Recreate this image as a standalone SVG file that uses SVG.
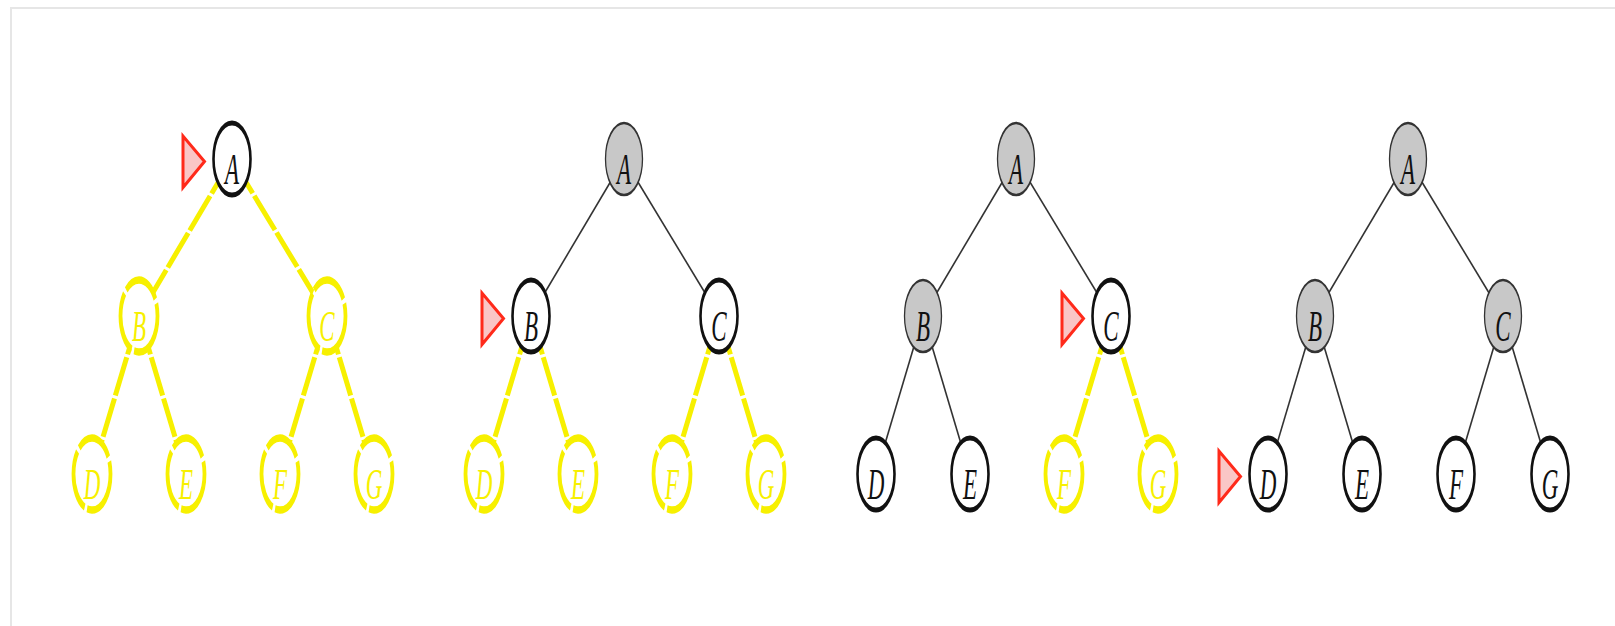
<svg xmlns="http://www.w3.org/2000/svg" width="1615" height="626" viewBox="0 0 1615 626">
  <style>
    .frame { stroke: #e6e6e6; stroke-width: 2; fill: none; }
    .e-done { stroke: #333; stroke-width: 1.6; fill: none; }
    .e-todo { stroke: #f7f000; stroke-width: 5; stroke-dasharray: 40 3; fill: none; }
    .n-cur circle { fill: #fff; stroke: #111; stroke-width: 2.6; }
    .n-seen circle { fill: #c8c8c8; stroke: #333; stroke-width: 1.3; }
    .n-todo circle { fill: #fff; stroke: #f7f000; stroke-width: 3.8; stroke-dasharray: 34 2.5; }
    .lbl { font-family: "Liberation Serif", "DejaVu Serif", "Times New Roman", serif; font-style: italic; font-size: 23px; text-anchor: middle; }
    .n-cur .lbl, .n-seen .lbl { fill: #111; }
    .n-todo .lbl { fill: #f7f000; }
    .ptr { fill: #fac6c6; stroke: #ff2a1a; stroke-width: 3; stroke-linejoin: miter; }
  </style>
  <defs>
    <!-- pointer triangle, placed to the left of the node it marks -->
    <path id="pointer" class="ptr" d="M -49 -23 L -49 28.5 L -27.5 2.5 Z"/>
  </defs>

  <rect width="1615" height="626" fill="#fff"/>
  <path class="frame" d="M 11 626 L 11 8 L 1615 8"/>

  <!-- edges (centre to centre, hidden under node fills) -->
  <g id="connectors">
    <!-- tree 1 -->
    <line class="e-todo" x1="232" y1="159" x2="139" y2="316"/>
    <line class="e-todo" x1="232" y1="159" x2="327" y2="316"/>
    <line class="e-todo" x1="139" y1="316" x2="92" y2="474"/>
    <line class="e-todo" x1="139" y1="316" x2="186" y2="474"/>
    <line class="e-todo" x1="327" y1="316" x2="280" y2="474"/>
    <line class="e-todo" x1="327" y1="316" x2="374" y2="474"/>
    <!-- tree 2 -->
    <line class="e-done" x1="624" y1="159" x2="531" y2="316"/>
    <line class="e-done" x1="624" y1="159" x2="719" y2="316"/>
    <line class="e-todo" x1="531" y1="316" x2="484" y2="474"/>
    <line class="e-todo" x1="531" y1="316" x2="578" y2="474"/>
    <line class="e-todo" x1="719" y1="316" x2="672" y2="474"/>
    <line class="e-todo" x1="719" y1="316" x2="766" y2="474"/>
    <!-- tree 3 -->
    <line class="e-done" x1="1016" y1="159" x2="923" y2="316"/>
    <line class="e-done" x1="1016" y1="159" x2="1111" y2="316"/>
    <line class="e-done" x1="923" y1="316" x2="876" y2="474"/>
    <line class="e-done" x1="923" y1="316" x2="970" y2="474"/>
    <line class="e-todo" x1="1111" y1="316" x2="1064" y2="474"/>
    <line class="e-todo" x1="1111" y1="316" x2="1158" y2="474"/>
    <!-- tree 4 -->
    <line class="e-done" x1="1408" y1="159" x2="1315" y2="316"/>
    <line class="e-done" x1="1408" y1="159" x2="1503" y2="316"/>
    <line class="e-done" x1="1315" y1="316" x2="1268" y2="474"/>
    <line class="e-done" x1="1315" y1="316" x2="1362" y2="474"/>
    <line class="e-done" x1="1503" y1="316" x2="1456" y2="474"/>
    <line class="e-done" x1="1503" y1="316" x2="1550" y2="474"/>
  </g>

  <!-- tree 1 -->
  <g id="t1">
    <g id="t1-A" class="n-cur" transform="translate(232,159) scale(1,1.95)"><circle r="18.5"/><text class="lbl" y="13">A</text></g>
    <g id="t1-B" class="n-todo" transform="translate(139,316) scale(1,1.95)"><circle r="18.5"/><text class="lbl" y="13">B</text></g>
    <g id="t1-C" class="n-todo" transform="translate(327,316) scale(1,1.95)"><circle r="18.5"/><text class="lbl" y="13">C</text></g>
    <g id="t1-D" class="n-todo" transform="translate(92,474) scale(1,1.95)"><circle r="18.5"/><text class="lbl" y="13">D</text></g>
    <g id="t1-E" class="n-todo" transform="translate(186,474) scale(1,1.95)"><circle r="18.5"/><text class="lbl" y="13">E</text></g>
    <g id="t1-F" class="n-todo" transform="translate(280,474) scale(1,1.95)"><circle r="18.5"/><text class="lbl" y="13">F</text></g>
    <g id="t1-G" class="n-todo" transform="translate(374,474) scale(1,1.95)"><circle r="18.5"/><text class="lbl" y="13">G</text></g>
    <use id="t1-pointer" href="#pointer" transform="translate(232,159)"/>
  </g>

  <!-- tree 2 -->
  <g id="t2">
    <g id="t2-A" class="n-seen" transform="translate(624,159) scale(1,1.95)"><circle r="18.5"/><text class="lbl" y="13">A</text></g>
    <g id="t2-B" class="n-cur" transform="translate(531,316) scale(1,1.95)"><circle r="18.5"/><text class="lbl" y="13">B</text></g>
    <g id="t2-C" class="n-cur" transform="translate(719,316) scale(1,1.95)"><circle r="18.5"/><text class="lbl" y="13">C</text></g>
    <g id="t2-D" class="n-todo" transform="translate(484,474) scale(1,1.95)"><circle r="18.5"/><text class="lbl" y="13">D</text></g>
    <g id="t2-E" class="n-todo" transform="translate(578,474) scale(1,1.95)"><circle r="18.5"/><text class="lbl" y="13">E</text></g>
    <g id="t2-F" class="n-todo" transform="translate(672,474) scale(1,1.95)"><circle r="18.5"/><text class="lbl" y="13">F</text></g>
    <g id="t2-G" class="n-todo" transform="translate(766,474) scale(1,1.95)"><circle r="18.5"/><text class="lbl" y="13">G</text></g>
    <use id="t2-pointer" href="#pointer" transform="translate(531,316)"/>
  </g>

  <!-- tree 3 -->
  <g id="t3">
    <g id="t3-A" class="n-seen" transform="translate(1016,159) scale(1,1.95)"><circle r="18.5"/><text class="lbl" y="13">A</text></g>
    <g id="t3-B" class="n-seen" transform="translate(923,316) scale(1,1.95)"><circle r="18.5"/><text class="lbl" y="13">B</text></g>
    <g id="t3-C" class="n-cur" transform="translate(1111,316) scale(1,1.95)"><circle r="18.5"/><text class="lbl" y="13">C</text></g>
    <g id="t3-D" class="n-cur" transform="translate(876,474) scale(1,1.95)"><circle r="18.5"/><text class="lbl" y="13">D</text></g>
    <g id="t3-E" class="n-cur" transform="translate(970,474) scale(1,1.95)"><circle r="18.5"/><text class="lbl" y="13">E</text></g>
    <g id="t3-F" class="n-todo" transform="translate(1064,474) scale(1,1.95)"><circle r="18.5"/><text class="lbl" y="13">F</text></g>
    <g id="t3-G" class="n-todo" transform="translate(1158,474) scale(1,1.95)"><circle r="18.5"/><text class="lbl" y="13">G</text></g>
    <use id="t3-pointer" href="#pointer" transform="translate(1111,316)"/>
  </g>

  <!-- tree 4 -->
  <g id="t4">
    <g id="t4-A" class="n-seen" transform="translate(1408,159) scale(1,1.95)"><circle r="18.5"/><text class="lbl" y="13">A</text></g>
    <g id="t4-B" class="n-seen" transform="translate(1315,316) scale(1,1.95)"><circle r="18.5"/><text class="lbl" y="13">B</text></g>
    <g id="t4-C" class="n-seen" transform="translate(1503,316) scale(1,1.95)"><circle r="18.5"/><text class="lbl" y="13">C</text></g>
    <g id="t4-D" class="n-cur" transform="translate(1268,474) scale(1,1.95)"><circle r="18.5"/><text class="lbl" y="13">D</text></g>
    <g id="t4-E" class="n-cur" transform="translate(1362,474) scale(1,1.95)"><circle r="18.5"/><text class="lbl" y="13">E</text></g>
    <g id="t4-F" class="n-cur" transform="translate(1456,474) scale(1,1.95)"><circle r="18.5"/><text class="lbl" y="13">F</text></g>
    <g id="t4-G" class="n-cur" transform="translate(1550,474) scale(1,1.95)"><circle r="18.5"/><text class="lbl" y="13">G</text></g>
    <use id="t4-pointer" href="#pointer" transform="translate(1268,474)"/>
  </g>
</svg>
